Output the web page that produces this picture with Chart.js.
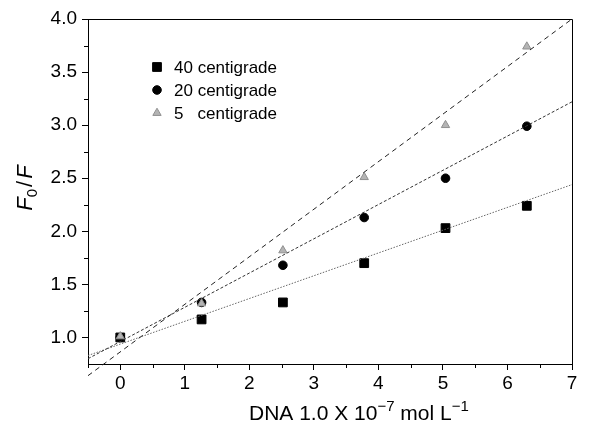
<!DOCTYPE html>
<html><head><meta charset="utf-8">
<script src="https://cdn.jsdelivr.net/npm/chart.js@4.4.0/dist/chart.umd.min.js"></script>
<style>html,body{margin:0;padding:0;background:#fff}#wrap{width:602px;height:427px;position:relative}</style>
</head><body><div id="wrap"><canvas id="c" width="602" height="427"></canvas></div>
<script>
// ---- data ----
const xValues = [0, 1.26, 2.52, 3.78, 5.04, 6.30];
const y40 = [1.00, 1.17, 1.33, 1.70, 2.03, 2.24];
const y20 = [1.00, 1.33, 1.68, 2.13, 2.50, 2.99];
const y5  = [1.01, 1.32, 1.82, 2.51, 3.00, 3.74];
const fitX  = [-0.5, 7];
const fit40 = [0.83, 2.44];
const fit20 = [0.80, 3.22];
const fit5  = [0.64, 4.00];
const legendLabels = ['40 centigrade', '20 centigrade', '5   centigrade'];
const xTicks = [0, 1, 2, 3, 4, 5, 6, 7];
const yTicks = [1.0, 1.5, 2.0, 2.5, 3.0, 3.5, 4.0];
const xMinor = [-0.5, 0.5, 1.5, 2.5, 3.5, 4.5, 5.5, 6.5];
const yMinor = [1.25, 1.75, 2.25, 2.75, 3.25, 3.75];

const FONT = '"Liberation Sans", Arial, Helvetica, sans-serif';
const pts = ys => xValues.map((x, i) => ({x: x, y: ys[i]}));
const line = ys => fitX.map((x, i) => ({x: x, y: ys[i]}));

const markerStyles = [
  {pointStyle: 'rect', radius: 6.2, bg: '#000', border: '#000'},
  {pointStyle: 'circle', radius: 4.3, bg: '#000', border: '#000'},
  {pointStyle: 'triangle', radius: 4.8, bg: '#b4b4b4', border: '#909090'}
];

const decor = {
  id: 'decor',
  afterDraw(chart) {
    const ctx = chart.ctx, a = chart.chartArea;
    const xs = chart.scales.x, ys = chart.scales.y;
    ctx.save();
    // box top/right
    ctx.strokeStyle = '#000'; ctx.lineWidth = 1;
    ctx.beginPath();
    ctx.moveTo(a.left, Math.round(a.top) + 0.5); ctx.lineTo(Math.round(a.right) + 0.5, Math.round(a.top) + 0.5);
    ctx.lineTo(Math.round(a.right) + 0.5, a.bottom);
    ctx.stroke();
    // minor ticks
    ctx.beginPath();
    xMinor.forEach(v => { const p = Math.round(xs.getPixelForValue(v)) + 0.5; ctx.moveTo(p, a.bottom); ctx.lineTo(p, a.bottom + 4); });
    yMinor.forEach(v => { const p = Math.round(ys.getPixelForValue(v)) + 0.5; ctx.moveTo(a.left, p); ctx.lineTo(a.left - 4, p); });
    ctx.stroke();
    // legend
    ctx.font = '17px ' + FONT;
    ctx.textBaseline = 'middle';
    const lx = 157, ly = [67, 90, 113];
    legendLabels.forEach((t, i) => {
      const m = markerStyles[i];
      ctx.fillStyle = m.bg; ctx.strokeStyle = m.border; ctx.lineWidth = 1;
      Chart.helpers.drawPoint(ctx, {pointStyle: m.pointStyle, radius: m.radius, borderWidth: 1}, lx, ly[i]);
      ctx.fillStyle = '#000';
      ctx.fillText(t, 174, ly[i] + 1);
    });
    // x title
    ctx.textBaseline = 'alphabetic';
    const parts = [
      {t: 'DNA 1.0 X 10', f: '21px ' + FONT, dy: 0},
      {t: '\u22127', f: '15px ' + FONT, dy: -9},
      {t: ' mol L', f: '21px ' + FONT, dy: 0},
      {t: '\u22121', f: '15px ' + FONT, dy: -9}
    ];
    let x = 249;
    const by = 420;
    parts.forEach(p => { ctx.font = p.f; ctx.fillText(p.t, x, by + p.dy); x += ctx.measureText(p.t).width; });
    // y title F0 / F rotated
    ctx.translate(32, 190);
    ctx.rotate(-Math.PI / 2);
    const yp = [
      {t: 'F', f: 'italic 22px ' + FONT, dy: 0},
      {t: '0', f: '15px ' + FONT, dy: 5},
      {t: '/', f: '22px ' + FONT, dy: 0},
      {t: 'F', f: 'italic 22px ' + FONT, dy: 0}
    ];
    let w = 0;
    yp.forEach(p => { ctx.font = p.f; w += ctx.measureText(p.t).width; });
    x = -w / 2;
    yp.forEach(p => { ctx.font = p.f; ctx.fillText(p.t, x, p.dy); x += ctx.measureText(p.t).width + (p.t === '0' || p.t === '/' ? 2 : 0); });
    ctx.restore();
  }
};

const lineClip = {left: 0, top: 0, right: 0, bottom: 40};
new Chart(document.getElementById('c'), {
  type: 'scatter',
  data: {
    datasets: [
      {label: 'fit5', data: line(fit5), showLine: true, pointRadius: 0, borderColor: '#222', borderWidth: 1, borderDash: [5, 4], clip: lineClip},
      {label: 'fit20', data: line(fit20), showLine: true, pointRadius: 0, borderColor: '#333', borderWidth: 1, borderDash: [3, 2], clip: lineClip},
      {label: 'fit40', data: line(fit40), showLine: true, pointRadius: 0, borderColor: '#666', borderWidth: 1, borderDash: [1.5, 1.5], clip: lineClip},
      {label: legendLabels[2], data: pts(y5), pointStyle: 'triangle', pointRadius: markerStyles[2].radius, backgroundColor: markerStyles[2].bg, borderColor: markerStyles[2].border, borderWidth: 1},
      {label: legendLabels[1], data: pts(y20), pointStyle: 'circle', pointRadius: markerStyles[1].radius, backgroundColor: '#000', borderColor: '#000', borderWidth: 1},
      {label: legendLabels[0], data: pts(y40), pointStyle: 'rect', pointRadius: markerStyles[0].radius, backgroundColor: '#000', borderColor: '#000', borderWidth: 1}
    ]
  },
  options: {
    responsive: false,
    animation: false,
    layout: {padding: {top: 19, right: 30, left: 0, bottom: 0}},
    plugins: {legend: {display: false}, tooltip: {enabled: false}},
    scales: {
      x: {
        type: 'linear', min: -0.5, max: 7,
        afterBuildTicks: s => { s.ticks = xTicks.map(v => ({value: v})); },
        afterFit: s => { s.height = 63; },
        grid: {drawOnChartArea: false, tickLength: 6, color: '#000'},
        border: {color: '#000', width: 1},
        ticks: {color: '#000', font: {family: FONT, size: 19}, padding: 2, maxRotation: 0, autoSkip: false, callback: v => String(v)}
      },
      y: {
        type: 'linear', min: 0.75, max: 4.0,
        afterBuildTicks: s => { s.ticks = yTicks.map(v => ({value: v})); },
        afterFit: s => { s.width = 88; },
        grid: {drawOnChartArea: false, tickLength: 6, color: '#000'},
        border: {color: '#000', width: 1},
        ticks: {color: '#000', font: {family: FONT, size: 19}, padding: 5, autoSkip: false, callback: v => v.toFixed(1)}
      }
    }
  },
  plugins: [decor]
});
</script>
</body></html>
